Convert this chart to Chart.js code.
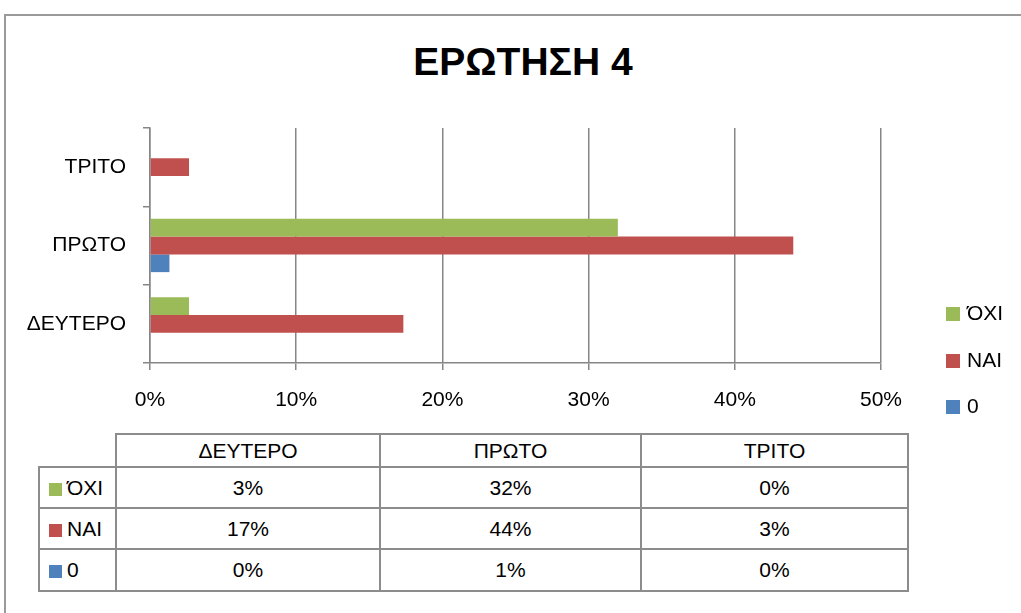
<!DOCTYPE html>
<html>
<head>
<meta charset="utf-8">
<script src="https://cdn.jsdelivr.net/npm/chart.js@4.4.0/dist/chart.umd.min.js"></script>
<style>
  html, body { margin: 0; padding: 0; background: #fff; }
  body { width: 1021px; height: 613px; position: relative; overflow: hidden; font-family: "Liberation Sans", Arial, sans-serif; color: #000; }
  #frame { position: absolute; left: 4px; top: 14px; width: 1100px; height: 700px; border-left: 2px solid #9a9a9a; border-top: 2px solid #9a9a9a; }
  #title { position: absolute; left: 0; width: 1046px; top: 40px; text-align: center; font-weight: bold; font-size: 39px; }
  #wrap { position: absolute; left: 0; top: 0; width: 1021px; height: 420px; }
  #legend { position: absolute; left: 946px; top: 0; font-size: 21px; }
  .lg { position: absolute; left: 0; white-space: nowrap; height: 24px; line-height: 24px; }
  .lg i { display: inline-block; width: 14px; height: 14px; vertical-align: -1px; margin-right: 7px; }
  #tbl { position: absolute; left: 38px; top: 433px; border-collapse: collapse; font-size: 21px; }
  #tbl td { border: 2px solid #8c8c8c; text-align: center; padding: 0; }
  #tbl td.corner { border-top: none; border-left: none; }
  #tbl td.rl { text-align: left; padding-left: 9px; }
  #tbl td.rl i { display: inline-block; width: 13px; height: 13px; vertical-align: -1px; margin-right: 5px; }
</style>
</head>
<body>
<div id="frame"></div>
<div id="title">ΕΡΩΤΗΣΗ 4</div>
<div id="wrap"><canvas id="chart"></canvas></div>
<div id="legend"></div>
<table id="tbl"></table>
<script>
// categories (bottom to top on the chart, left to right in the table)
var categories = ['ΔΕΥΤΕΡΟ', 'ΠΡΩΤΟ', 'ΤΡΙΤΟ'];
var seriesNames = ['ΌΧΙ', 'ΝΑΙ', '0'];
var seriesColors = ['#9BBB59', '#C0504D', '#4F81BD'];
// percent values per series
var oxiValues = [2.67, 32, 0];
var naiValues = [17.33, 44, 2.67];
var zeroValues = [0, 1.33, 0];
var xTicks = [0, 10, 20, 30, 40, 50];

var allValues = [oxiValues, naiValues, zeroValues];

var datasets = [];
for (var i = 0; i < seriesNames.length; i++) {
  datasets.push({
    label: seriesNames[i],
    data: allValues[i],
    backgroundColor: seriesColors[i],
    borderWidth: 0,
    barPercentage: 1,
    categoryPercentage: 0.68
  });
}

var ctx = document.getElementById('chart');
var chart = new Chart(ctx, {
  type: 'bar',
  data: { labels: categories, datasets: datasets },
  options: {
    indexAxis: 'y',
    responsive: true,
    maintainAspectRatio: false,
    animation: false,
    layout: { padding: { top: 128, right: 140, left: 0, bottom: 0 } },
    plugins: { legend: { display: false }, title: { display: false }, tooltip: { enabled: false } },
    scales: {
      y: {
        reverse: true,
        grid: { drawOnChartArea: false, drawTicks: true, tickLength: 7, color: '#868686', lineWidth: 1.5, offset: true },
        border: { display: true, color: '#868686', width: 1.5 },
        ticks: { color: '#000', font: { family: 'Liberation Sans', size: 21 }, padding: 17 },
        afterFit: function (s) { s.width = 150; }
      },
      x: {
        min: xTicks[0],
        max: xTicks[xTicks.length - 1],
        grid: { color: '#868686', tickLength: 7, lineWidth: 1.5 },
        border: { display: true, color: '#868686', width: 1.5 },
        ticks: {
          stepSize: xTicks[1] - xTicks[0],
          color: '#000',
          font: { family: 'Liberation Sans', size: 21 },
          padding: 18,
          callback: function (v) { return v + '%'; }
        },
        afterFit: function (s) { s.height = 57; }
      }
    }
  }
});

// legend
var legendTops = [301, 348, 394];
var lg = document.getElementById('legend');
for (var j = 0; j < seriesNames.length; j++) {
  var d = document.createElement('div');
  d.className = 'lg';
  d.style.top = legendTops[j] + 'px';
  d.innerHTML = '<i style="background:' + seriesColors[j] + '"></i>' + seriesNames[j];
  lg.appendChild(d);
}

// data table
var colWidths = [76, 262, 259, 265];
var rowHeights = [33, 41, 41, 42];
var tbl = document.getElementById('tbl');
var head = document.createElement('tr');
head.style.height = rowHeights[0] + 'px';
var c0 = document.createElement('td');
c0.className = 'corner';
c0.style.width = colWidths[0] + 'px';
head.appendChild(c0);
for (var k = 0; k < categories.length; k++) {
  var th = document.createElement('td');
  th.style.width = colWidths[k + 1] + 'px';
  th.textContent = categories[k];
  head.appendChild(th);
}
tbl.appendChild(head);
for (var r = 0; r < seriesNames.length; r++) {
  var tr = document.createElement('tr');
  tr.style.height = rowHeights[r + 1] + 'px';
  var lab = document.createElement('td');
  lab.className = 'rl';
  lab.innerHTML = '<i style="background:' + seriesColors[r] + '"></i>' + seriesNames[r];
  tr.appendChild(lab);
  for (var c = 0; c < categories.length; c++) {
    var td = document.createElement('td');
    td.textContent = Math.round(allValues[r][c]) + '%';
    tr.appendChild(td);
  }
  tbl.appendChild(tr);
}
</script>
</body>
</html>
